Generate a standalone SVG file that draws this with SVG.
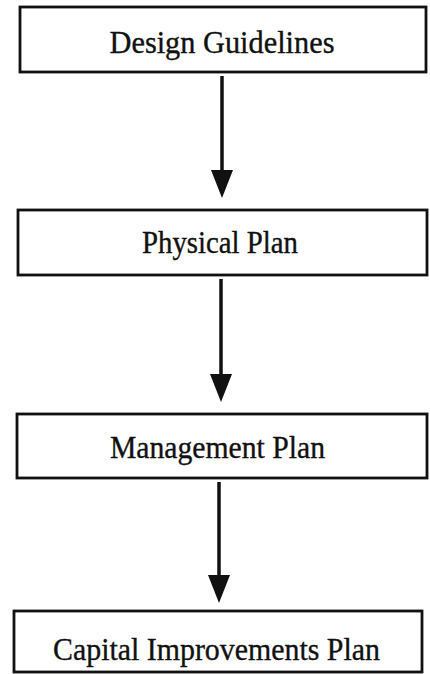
<svg xmlns="http://www.w3.org/2000/svg" width="430" height="674" viewBox="0 0 430 674">
  <style>
    .box { fill: #ffffff; stroke: #111111; stroke-width: 2.8; }
    .label { font-family: "Liberation Serif", "Times New Roman", serif; font-size: 31px; fill: #111111; stroke: #111111; stroke-width: 0.35; text-anchor: middle; }
    .flow { stroke: #111111; stroke-width: 3.5; fill: none; marker-end: url(#head); }
  </style>
  <defs>
    <!-- solid triangular arrowhead; tip sits 10px beyond the line end -->
    <marker id="head" markerUnits="userSpaceOnUse" markerWidth="28" markerHeight="22" viewBox="0 0 28 22" refX="18" refY="11" orient="auto">
      <path d="M0,0 L28,11 L0,22 Z" fill="#111111"/>
    </marker>
  </defs>
  <rect width="430" height="674" fill="#ffffff"/>

  <g id="connectors">
    <line class="flow" x1="222" y1="76" x2="222" y2="188"/>
    <line class="flow" x1="221" y1="279" x2="221" y2="392"/>
    <line class="flow" x1="219" y1="482" x2="219" y2="593"/>
  </g>

  <g id="design-guidelines">
    <rect class="box" x="20" y="7" width="406" height="65"/>
    <text class="label" x="222" y="53" textLength="225" lengthAdjust="spacingAndGlyphs">Design Guidelines</text>
  </g>

  <g id="physical-plan">
    <rect class="box" x="18" y="210" width="409" height="65"/>
    <text class="label" x="220" y="253" textLength="156" lengthAdjust="spacingAndGlyphs">Physical Plan</text>
  </g>

  <g id="management-plan">
    <rect class="box" x="17" y="414" width="410" height="64"/>
    <text class="label" x="217.5" y="458" textLength="215" lengthAdjust="spacingAndGlyphs">Management Plan</text>
  </g>

  <g id="capital-improvements-plan">
    <rect class="box" x="14" y="611" width="408" height="61"/>
    <text class="label" x="216.5" y="660" textLength="327" lengthAdjust="spacingAndGlyphs">Capital Improvements Plan</text>
  </g>
</svg>
